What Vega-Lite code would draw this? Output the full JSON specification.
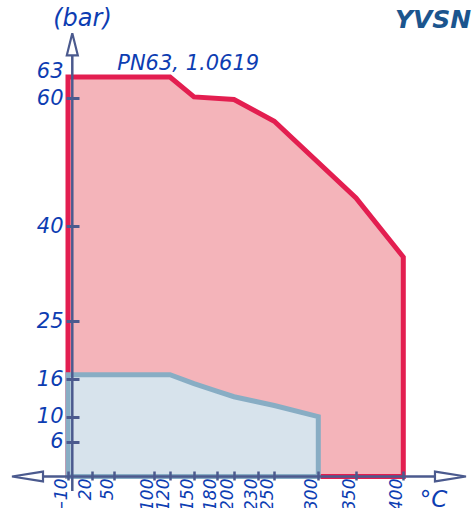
{
  "$schema": "https://vega.github.io/schema/vega-lite/v6.json",
  "width": 474,
  "height": 508,
  "autosize": "none",
  "padding": 0,
  "background": "white",
  "config": {
    "view": {"stroke": null},
    "axis": {
      "labelOverlap": false,
      "labelFlush": false,
      "labelBound": false,
      "labelFont": "DejaVu Sans",
      "labelFontStyle": "italic",
      "labelColor": "#0d3db2",
      "domain": false,
      "grid": false,
      "tickColor": "#4b5a8e"
    }
  },
  "datasets": {
    "curves": [
      {"series": "PN63", "T": -10, "p": 63},
      {"series": "PN63", "T": 120, "p": 63},
      {"series": "PN63", "T": 150, "p": 60.2},
      {"series": "PN63", "T": 200, "p": 59.8},
      {"series": "PN63", "T": 250, "p": 56.4},
      {"series": "PN63", "T": 350, "p": 44.4},
      {"series": "PN63", "T": 400, "p": 35.1},
      {"series": "PN16", "T": -10, "p": 16.7},
      {"series": "PN16", "T": 120, "p": 16.7},
      {"series": "PN16", "T": 150, "p": 15.3},
      {"series": "PN16", "T": 180, "p": 14.1},
      {"series": "PN16", "T": 200, "p": 13.2},
      {"series": "PN16", "T": 250, "p": 11.8},
      {"series": "PN16", "T": 300, "p": 10}
    ],
    "axislines": [
      {"axis": "x", "T": -60, "T2": 455.5, "p": 0, "p2": 0},
      {"axis": "y", "T": 0, "T2": 0, "p": -2.3, "p2": 68.1}
    ],
    "arrows": [
      {"dir": "left", "T": -60, "p": 0},
      {"dir": "right", "T": 455.5, "p": 0},
      {"dir": "up", "T": 0, "p": 68.1}
    ],
    "labels": [
      {"label": "PN63, 1.0619", "T": 54, "p": 63}
    ],
    "brand": [
      {"label": "YVSN", "T": 480, "p": 73.8}
    ]
  },
  "encoding": {
    "x": {
      "field": "T",
      "type": "quantitative",
      "scale": {
        "domain": [-80, -10, 0, 20, 50, 100, 120, 150, 180, 200, 230, 250, 300, 350, 400, 480],
        "range": [11.3, 68, 72.3, 91.7, 114, 154.3, 170, 194, 216.7, 234, 258.3, 274.3, 318.3, 356, 403.3, 471.3],
        "nice": false,
        "zero": false
      },
      "axis": {
        "values": [-10, 20, 50, 100, 120, 150, 180, 200, 230, 250, 300, 350, 400],
        "orient": "bottom",
        "offset": -37,
        "zindex": 1,
        "labelOverlap": false,
        "labelSeparation": -20,
        "tickSize": 9,
        "tickWidth": 2.5,
        "labelAngle": -90,
        "labelAlign": "right",
        "labelBaseline": "alphabetic",
        "labelPadding": -2,
        "labelOffset": -1.5,
        "labelFontSize": 17,
        "title": "°C",
        "titleX": 433,
        "titleY": 35,
        "titleAngle": 0,
        "titleAlign": "center",
        "titleBaseline": "alphabetic",
        "titleFont": "DejaVu Sans",
        "titleFontSize": 23,
        "titleFontWeight": "normal",
        "titleFontStyle": "italic",
        "titleColor": "#0d3db2"
      }
    },
    "y": {
      "field": "p",
      "type": "quantitative",
      "scale": {
        "domain": [-5, 0, 6, 10, 16, 25, 40, 60, 63, 75],
        "range": [508, 476.5, 441.7, 416.7, 379.3, 321, 226, 98.3, 77, 0],
        "nice": false,
        "zero": false
      },
      "axis": {
        "values": [6, 10, 16, 25, 40, 60, 63],
        "orient": "left",
        "offset": -79,
        "zindex": 1,
        "labelOverlap": false,
        "tickSize": 13,
        "tickWidth": 3,
        "tickOpacity": {"condition": {"test": "datum.value == 63", "value": 0}, "value": 1},
        "labelOffset": {"condition": {"test": "datum.value == 63", "value": -6}, "value": 0},
        "labelPadding": 3,
        "labelFontSize": 21,
        "title": "(bar)",
        "titleX": 3,
        "titleY": 25,
        "titleAngle": 0,
        "titleAlign": "center",
        "titleBaseline": "alphabetic",
        "titleFont": "DejaVu Sans",
        "titleFontSize": 24,
        "titleFontWeight": "normal",
        "titleFontStyle": "italic",
        "titleColor": "#0d3db2"
      }
    }
  },
  "layer": [
    {
      "data": {"name": "curves"},
      "transform": [{"filter": "datum.series == 'PN63'"}],
      "mark": {"type": "area", "fill": "#f4b4ba", "fillOpacity": 1, "stroke": "#e31e50", "strokeWidth": 5, "strokeJoin": "miter"},
      "encoding": {"y2": {"datum": 0}}
    },
    {
      "data": {"name": "curves"},
      "transform": [{"filter": "datum.series == 'PN16'"}],
      "mark": {"type": "area", "fill": "#d7e3ec", "fillOpacity": 1, "stroke": "#88adc4", "strokeWidth": 5, "strokeJoin": "miter"},
      "encoding": {"y2": {"datum": 0}}
    },
    {
      "data": {"name": "axislines"},
      "mark": {"type": "rule", "stroke": "#4b5a8e", "strokeWidth": 2.5},
      "encoding": {
        "x2": {"field": "T2"},
        "y2": {"field": "p2"}
      }
    },
    {
      "data": {"name": "arrows"},
      "mark": {"type": "point", "filled": true, "fill": "white", "stroke": "#4b5a8e", "strokeWidth": 2.2, "size": 961, "opacity": 1},
      "encoding": {
        "shape": {
          "field": "dir",
          "type": "nominal",
          "scale": {
            "domain": ["left", "right", "up"],
            "range": ["M-1,0L1,-0.32L1,0.32Z", "M1,0L-1,-0.32L-1,0.32Z", "M0,-0.71L0.355,0.71L-0.355,0.71Z"]
          },
          "legend": null
        }
      }
    },
    {
      "data": {"name": "labels"},
      "mark": {"type": "text", "align": "left", "baseline": "alphabetic", "dy": -7, "font": "DejaVu Sans", "fontSize": 21, "fontStyle": "italic", "color": "#0d3db2"},
      "encoding": {"text": {"field": "label"}}
    },
    {
      "data": {"name": "brand"},
      "mark": {"type": "text", "align": "right", "baseline": "top", "font": "DejaVu Sans", "fontSize": 25, "fontStyle": "italic", "fontWeight": "bold", "color": "#1b558e"},
      "encoding": {"text": {"field": "label"}}
    }
  ]
}
